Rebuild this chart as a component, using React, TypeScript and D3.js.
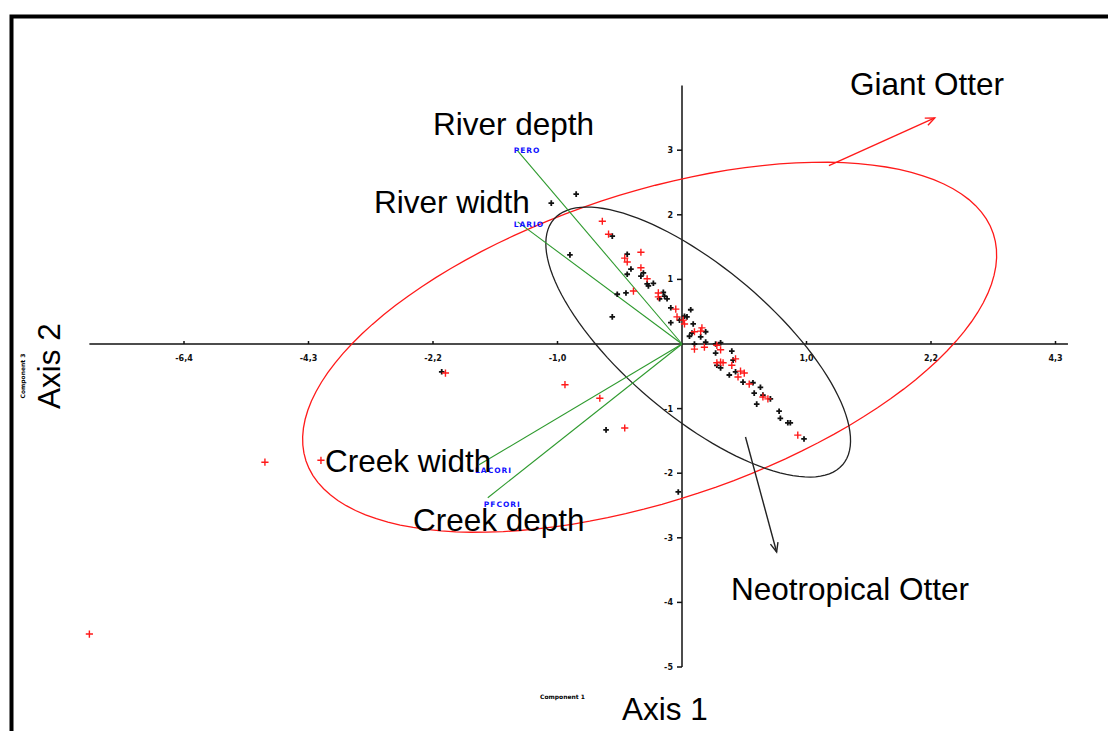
import React, { useEffect, useRef } from 'react';
import * as d3 from 'd3';

const WIDTH = 1108;
const HEIGHT = 731;

// scores (axis units: 1 = one tick step)
const blackX = [-1.93, -0.61, -0.03, -1.05, -0.85, -0.9, -0.56, -0.52, -0.45, -0.56, -0.44, -0.41, -0.44, -0.31,
  -0.33, -0.23, -0.28, -0.27, -0.15, -0.14, -0.12, -0.18, -0.09, 0.07, -0.02, -0.09, 0.04, 0.09, 0.08, 0.19, 0.02,
  0.06, 0.15, 0.19, 0.1, 0.27, 0.31, 0.27, 0.4, 0.28, 0.31, 0.41, 0.38, 0.43, 0.49, 0.57, 0.63, 0.58, 0.65, 0.71,
  0.6, 0.78, 0.79, 0.85, 0.87, 0.98];
const blackY = [-0.43, -1.33, -2.29, 2.18, 2.32, 1.38, 0.42, 0.77, 0.79, 1.67, 1.39, 1.16, 1.08, 1.1, 1.05, 0.94,
  0.93, 0.9, 0.8, 0.74, 0.7, 0.7, 0.56, 0.53, 0.37, 0.33, 0.42, 0.31, 0.17, 0.19, 0.43, 0.12, 0.11, 0.03, 0.0, 0.0,
  0.02, -0.14, -0.11, -0.33, -0.37, -0.25, -0.48, -0.43, -0.59, -0.6, -0.67, -0.76, -0.79, -0.85, -0.93, -1.04,
  -1.15, -1.22, -1.22, -1.47];

const redX = [-4.76, -3.35, -2.9, -1.9, -0.94, -0.66, -0.46, -0.64, -0.59, -0.33, -0.46, -0.44, -0.33, -0.39, -0.28,
  -0.19, -0.19, -0.05, -0.04, 0.01, 0.02, 0.1, 0.16, 0.15, 0.1, 0.18, 0.28, 0.31, 0.28, 0.31, 0.33, 0.43, 0.4, 0.47,
  0.5, 0.45, 0.54, 0.65, 0.69, 0.93];
const redY = [-4.49, -1.83, -1.8, -0.45, -0.63, -0.84, -1.3, 1.9, 1.7, 1.42, 1.33, 1.27, 1.18, 0.82, 1.01, 0.79,
  0.73, 0.54, 0.42, 0.37, 0.31, 0.19, 0.25, 0.2, -0.08, -0.05, -0.02, -0.09, -0.29, -0.28, -0.29, -0.23, -0.33,
  -0.42, -0.45, -0.51, -0.62, -0.82, -0.85, -1.41];

const vectorNames = ['PERO', 'LARIO', 'LACORI', 'PFCORI'];
const vectorX = [-1.32, -1.32, -1.63, -1.56];
const vectorY = [2.99, 1.89, -1.87, -2.38];

const xTicks = [-4, -3, -2, -1, 1, 2, 3];
const xTickLabels = ['-6,4', '-4,3', '-2,2', '-1,0', '1,0', '2,2', '4,3'];
const yTicks = [3, 2, 1, -1, -2, -3, -4, -5];
const yTickLabels = ['3', '2', '1', '-1', '-2', '-3', '-4', '-5'];

// ellipse = [cx, cy, major dx, major dy, minor dx, minor dy]
const giantEllipse = [-0.26, -0.05, 2.76, 1.76, 0.39, -2.26];
const neoEllipse = [0.13, 0.03, 1.16, -1.9, -0.39, -0.87];

const TEXT_FONT = "'Liberation Sans', Arial, sans-serif";
const TICK_FONT = "'DejaVu Sans', sans-serif";

const App = () => {
  const ref = useRef<SVGSVGElement>(null);

  useEffect(() => {
    if (!ref.current) {
      return;
    }
    const svg = d3.select(ref.current);
    svg.selectAll('*').remove();

    const ux = 124.5;
    const uy = 64.6;
    const ox = 682;
    const oy = 344;
    const x = d3.scaleLinear().domain([-4.76, 3.1]).range([ox - 4.76 * ux, ox + 3.1 * ux]);
    const y = d3.scaleLinear().domain([-5, 4]).range([oy + 5 * uy, oy - 4 * uy]);

    svg.append('rect').attr('width', WIDTH).attr('height', HEIGHT).attr('fill', '#fff');
    svg
      .append('rect')
      .attr('x', 11.5)
      .attr('y', 16.5)
      .attr('width', 1200)
      .attr('height', 900)
      .attr('fill', 'none')
      .attr('stroke', '#000')
      .attr('stroke-width', 4);

    // axes through the origin
    const axes = svg.append('g').attr('stroke', '#111').attr('stroke-width', 1.5);
    axes.append('line').attr('x1', x(-4.76)).attr('x2', x(3.1)).attr('y1', y(0)).attr('y2', y(0));
    axes.append('line').attr('x1', x(0)).attr('x2', x(0)).attr('y1', y(4)).attr('y2', y(-5));

    axes
      .selectAll('.xt')
      .data(xTicks)
      .join('line')
      .attr('x1', (d) => x(d))
      .attr('x2', (d) => x(d))
      .attr('y1', y(0) - 3)
      .attr('y2', y(0));
    axes
      .selectAll('.yt')
      .data(yTicks)
      .join('line')
      .attr('x1', x(0) - 5)
      .attr('x2', x(0))
      .attr('y1', (d) => y(d))
      .attr('y2', (d) => y(d));

    const tickText = svg
      .append('g')
      .attr('font-family', TICK_FONT)
      .attr('font-size', 8)
      .attr('font-weight', 'bold')
      .attr('fill', '#111');
    tickText
      .selectAll('text.x')
      .data(xTicks)
      .join('text')
      .attr('x', (d) => x(d))
      .attr('y', y(0) + 17)
      .attr('text-anchor', 'middle')
      .text((d, i) => xTickLabels[i]);
    tickText
      .append('g')
      .selectAll('text')
      .data(yTicks)
      .join('text')
      .attr('x', x(0) - 9)
      .attr('y', (d) => y(d) + 3)
      .attr('text-anchor', 'end')
      .text((d, i) => yTickLabels[i]);

    // confidence ellipses
    const ellipsePath = (e: number[]) =>
      d3.line()(
        d3.range(0, 361, 3).map((deg) => {
          const t = (deg * Math.PI) / 180;
          return [
            x(e[0] + Math.cos(t) * e[2] + Math.sin(t) * e[4]),
            y(e[1] + Math.cos(t) * e[3] + Math.sin(t) * e[5]),
          ] as [number, number];
        }),
      );
    svg
      .append('path')
      .attr('d', ellipsePath(giantEllipse))
      .attr('fill', 'none')
      .attr('stroke', '#ff1a1a')
      .attr('stroke-width', 1.3);
    svg
      .append('path')
      .attr('d', ellipsePath(neoEllipse))
      .attr('fill', 'none')
      .attr('stroke', '#222')
      .attr('stroke-width', 1.3);

    // variable vectors
    svg
      .append('g')
      .attr('stroke', '#2e9a2e')
      .attr('stroke-width', 1.1)
      .selectAll('line')
      .data(vectorNames)
      .join('line')
      .attr('x1', x(0))
      .attr('y1', y(0))
      .attr('x2', (d, i) => x(vectorX[i]))
      .attr('y2', (d, i) => y(vectorY[i]));
    const labelDy = [2, 5, 8, 9];
    svg
      .append('g')
      .attr('font-family', TICK_FONT)
      .attr('font-size', 7.5)
      .attr('font-weight', 'bold')
      .attr('letter-spacing', 1)
      .attr('fill', '#1010ff')
      .selectAll('text')
      .data(vectorNames)
      .join('text')
      .attr('x', (d, i) => x(vectorX[i]) - 4)
      .attr('y', (d, i) => y(vectorY[i]) + labelDy[i])
      .text((d) => d);

    // score markers
    const plus = (g: d3.Selection<SVGGElement, unknown, null, undefined>, xs: number[], ys: number[], s: number) =>
      g
        .selectAll('path')
        .data(xs)
        .join('path')
        .attr('d', (d, i) => {
          const px = x(d);
          const py = y(ys[i]);
          return `M${px - s},${py}H${px + s}M${px},${py - s}V${py + s}`;
        });
    plus(svg.append('g').attr('stroke', '#111').attr('stroke-width', 1.8), blackX, blackY, 2.8);
    plus(svg.append('g').attr('stroke', '#ff1a1a').attr('stroke-width', 1.4), redX, redY, 3.6);

    // arrows to the group labels
    const arrow = (x1: number, y1: number, x2: number, y2: number, color: string) => {
      const a1 = x(x1);
      const b1 = y(y1);
      const a2 = x(x2);
      const b2 = y(y2);
      const ang = Math.atan2(b2 - b1, a2 - a1);
      const hl = 10;
      const g = svg.append('g').attr('stroke', color).attr('stroke-width', 1.4).attr('fill', 'none');
      g.append('line').attr('x1', a1).attr('y1', b1).attr('x2', a2).attr('y2', b2);
      g.append('path').attr(
        'd',
        `M${a2 - hl * Math.cos(ang - 0.4)},${b2 - hl * Math.sin(ang - 0.4)}L${a2},${b2}L${
          a2 - hl * Math.cos(ang + 0.4)
        },${b2 - hl * Math.sin(ang + 0.4)}`,
      );
    };
    arrow(1.18, 2.76, 2.03, 3.5, '#ff1a1a');
    arrow(0.51, -1.44, 0.76, -3.22, '#222');

    // annotation text
    const notes = svg.append('g').attr('font-family', TEXT_FONT).attr('font-size', 31.5).attr('fill', '#000');
    const note = (t: string, px: number, py: number) => notes.append('text').attr('x', px).attr('y', py).text(t);
    note('Giant Otter', 850, 95);
    note('River depth', 433, 135);
    note('River width', 374, 213);
    note('Creek width', 325, 472);
    note('Creek depth', 413, 531);
    note('Neotropical Otter', 731, 600);
    note('Axis 1', 622, 720);
    notes
      .append('text')
      .attr('transform', 'translate(60,366) rotate(-90)')
      .attr('text-anchor', 'middle')
      .text('Axis 2');

    svg
      .append('text')
      .attr('x', 540)
      .attr('y', 699)
      .attr('font-family', TICK_FONT)
      .attr('font-size', 6)
      .attr('font-weight', 'bold')
      .text('Component 1');
    svg
      .append('text')
      .attr('transform', 'translate(25,376) rotate(-90)')
      .attr('text-anchor', 'middle')
      .attr('font-family', TICK_FONT)
      .attr('font-size', 6)
      .attr('font-weight', 'bold')
      .text('Component 3');
  }, []);

  return (
    <svg
      ref={ref}
      width={WIDTH}
      height={HEIGHT}
      style={{ position: 'absolute', left: 0, top: 0, display: 'block' }}
    />
  );
};

export default App;
